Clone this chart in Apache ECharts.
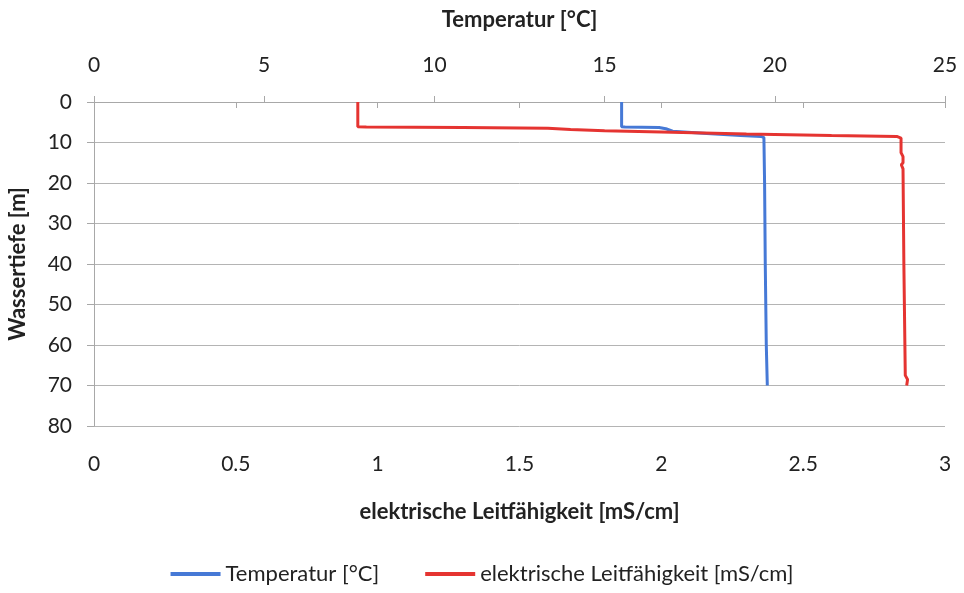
<!DOCTYPE html>
<html lang="de">
<head>
  <meta charset="UTF-8">
  <title>Wassertiefe</title>
  <style>
    * { margin: 0; padding: 0; }
    body { background: #ffffff; }
    #chart { width: 964px; height: 593px; }
  </style>
</head>
<body>
  <div id="chart"></div>
  <script src="https://cdn.jsdelivr.net/npm/echarts@6/dist/echarts.min.js"></script>
  <script>
    // Temperatur [°C] gegen Tiefe [m]
    var tempValues = [15.5, 15.5, 15.6, 16.6, 16.8, 17.0, 18.0, 19.0, 19.6, 19.68, 19.7, 19.72, 19.75, 19.78];
    var tempDepth  = [0, 6.1, 6.2, 6.3, 6.6, 7.2, 7.8, 8.3, 8.5, 8.8, 20, 40, 60, 70];

    // elektrische Leitfähigkeit [mS/cm] gegen Tiefe [m]
    var condValues = [0.93, 0.93, 0.96, 1.3, 1.6, 1.68, 1.8, 2.0, 2.3, 2.6, 2.83, 2.845, 2.845, 2.852, 2.852, 2.846, 2.852, 2.855, 2.86, 2.868, 2.865];
    var condDepth  = [0, 6.1, 6.2, 6.3, 6.5, 6.8, 7.1, 7.4, 7.9, 8.3, 8.5, 8.9, 12.5, 13.5, 15, 15.5, 16.5, 40, 67.5, 68.5, 70];

    var depthTicks = [0, 10, 20, 30, 40, 50, 60, 70, 80];

    function pairs(xs, ys) {
      var out = [];
      for (var i = 0; i < xs.length; i++) {
        out.push([xs[i], ys[i]]);
      }
      return out;
    }

    var font = 'Lato';
    var titleStyle = { fontFamily: font, fontSize: 22, fontWeight: 'bold', color: '#222' };
    var myChart = echarts.init(document.getElementById('chart'));
    var option = {
      animation: false,
      textStyle: { fontFamily: font },
      grid: { left: 94, right: 19, top: 102, bottom: 167, outerBoundsMode: 'none' },
      legend: {
        bottom: 3,
        left: 'center',
        icon: 'rect',
        itemWidth: 50,
        itemHeight: 4,
        itemGap: 46,
        textStyle: { fontFamily: font, fontSize: 22, color: '#222' },
        data: ['Temperatur [°C]', 'elektrische Leitfähigkeit [mS/cm]']
      },
      xAxis: [
        {
          // unten: Leitfähigkeit
          type: 'value',
          position: 'bottom',
          min: 0, max: 3, interval: 0.5,
          name: 'elektrische Leitfähigkeit [mS/cm]',
          nameLocation: 'middle',
          nameGap: 75,
          nameTextStyle: titleStyle,
          axisLine: { show: true, lineStyle: { color: '#a8a8a8' } },
          axisTick: { show: true, length: 6, lineStyle: { color: '#a8a8a8' } },
          axisLabel: { margin: 28, fontSize: 21, color: '#222' },
          splitLine: { show: false }
        },
        {
          // oben: Temperatur
          type: 'value',
          position: 'top',
          min: 0, max: 25, interval: 5,
          name: 'Temperatur [°C]',
          nameLocation: 'middle',
          nameGap: 71,
          nameTextStyle: titleStyle,
          axisLine: { show: true, lineStyle: { color: '#a8a8a8' } },
          axisTick: { show: true, length: 6, lineStyle: { color: '#a8a8a8' } },
          axisLabel: { margin: 26, fontSize: 21, color: '#222' },
          splitLine: { show: false }
        }
      ],
      yAxis: {
        type: 'value',
        inverse: true,
        min: depthTicks[0], max: depthTicks[depthTicks.length - 1], interval: 10,
        name: 'Wassertiefe [m]',
        nameLocation: 'middle',
        nameGap: 65,
        nameTextStyle: titleStyle,
        axisLine: { show: true, lineStyle: { color: '#a8a8a8' } },
        axisTick: { show: true, length: 7, lineStyle: { color: '#a8a8a8' } },
        axisLabel: { margin: 22, fontSize: 21, color: '#222' },
        splitLine: { show: true, lineStyle: { color: '#b4b4b4', width: 1 } }
      },
      series: [
        {
          name: 'Temperatur [°C]',
          type: 'line',
          xAxisIndex: 1,
          showSymbol: false,
          color: '#4679d6',
          lineStyle: { width: 3, color: '#4679d6' },
          data: pairs(tempValues, tempDepth)
        },
        {
          name: 'elektrische Leitfähigkeit [mS/cm]',
          type: 'line',
          xAxisIndex: 0,
          showSymbol: false,
          color: '#e53431',
          lineStyle: { width: 3, color: '#e53431' },
          data: pairs(condValues, condDepth)
        }
      ]
    };
    myChart.setOption(option);
  </script>
</body>
</html>
